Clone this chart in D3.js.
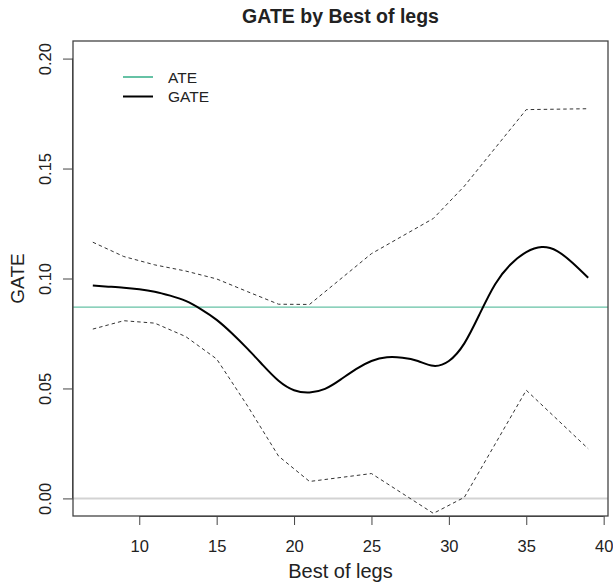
<!DOCTYPE html>
<html>
<head>
<meta charset="utf-8">
<script src="https://cdn.jsdelivr.net/npm/d3@7"></script>
<style>
  body { margin: 0; background: #fff; }
  text { font-family: "Liberation Sans", Arial, sans-serif; fill: #222; }
</style>
</head>
<body>
<div id="chart"></div>
<script>
// data
const ate = 0.087
const gateX = d3.range(7, 40)
const gateY = [0.0968, 0.0963, 0.0958, 0.0951, 0.0940, 0.0922, 0.0898, 0.0860, 0.0812, 0.0750,
  0.0680, 0.0605, 0.0535, 0.0492, 0.0482, 0.0498, 0.0540, 0.0588, 0.0625, 0.0642,
  0.0640, 0.0625, 0.0603, 0.0625, 0.0705, 0.0840, 0.0975, 0.1065, 0.1120, 0.1143,
  0.1125, 0.1070, 0.1003]
const ciX = [7, 9, 11, 13, 15, 17, 19, 21, 25, 29, 31, 35, 39]
const upperY = [0.1165, 0.1100, 0.1062, 0.1034, 0.0998, 0.0940, 0.0883, 0.0882, 0.1113, 0.1273, 0.1420, 0.1768, 0.1772]
const lowerY = [0.0770, 0.0808, 0.0797, 0.0736, 0.0634, 0.0420, 0.0192, 0.0077, 0.0113, -0.0068, 0.0005, 0.0492, 0.0226]
const xTicks = [10, 15, 20, 25, 30, 35, 40]
const yTicks = [0.00, 0.05, 0.10, 0.15, 0.20]
const legendItems = [
  {label: "ATE", color: "#66C2A5"},
  {label: "GATE", color: "#000"}
]

// dimensions
const width = 613, height = 584
const margin = {top: 41, right: 5, bottom: 68, left: 73}
const w = width - margin.left - margin.right
const h = height - margin.top - margin.bottom

const svg = d3.select("#chart").append("svg")
  .attr("width", width)
  .attr("height", height)

const g = svg.append("g")
  .attr("transform", `translate(${margin.left},${margin.top})`)

// R style 4% padding on both axes
const x = d3.scaleLinear().domain([5.72, 40.28]).range([0, w])
const y = d3.scaleLinear().domain([-0.008, 0.208]).range([h, 0])

const gate = gateX.map((d, i) => ({x: d, y: gateY[i]}))
const upper = ciX.map((d, i) => ({x: d, y: upperY[i]}))
const lower = ciX.map((d, i) => ({x: d, y: lowerY[i]}))

// zero line
g.append("line")
  .attr("x1", 0).attr("x2", w)
  .attr("y1", y(0)).attr("y2", y(0))
  .attr("stroke", "#d3d3d3")
  .attr("stroke-width", 2)

// ATE line
g.append("line")
  .attr("x1", 0).attr("x2", w)
  .attr("y1", y(ate)).attr("y2", y(ate))
  .attr("stroke", legendItems[0].color)
  .attr("stroke-width", 1.3)

const lin = d3.line().x(d => x(d.x)).y(d => y(d.y))

g.selectAll(".ci")
  .data([upper, lower])
  .join("path")
  .attr("class", "ci")
  .attr("d", lin)
  .attr("fill", "none")
  .attr("stroke", "#333")
  .attr("stroke-width", 1)
  .attr("stroke-dasharray", "3.5,3")

g.append("path")
  .attr("d", lin.curve(d3.curveNatural)(gate))
  .attr("fill", "none")
  .attr("stroke", "#000")
  .attr("stroke-width", 2)

// box
g.append("rect")
  .attr("width", w).attr("height", h)
  .attr("fill", "none")
  .attr("stroke", "#444")
  .attr("stroke-width", 1.3)

// x axis
g.append("g")
  .attr("transform", `translate(0,${h})`)
  .call(d3.axisBottom(x).tickValues(xTicks).tickSize(9).tickPadding(15).tickSizeOuter(0))
  .call(a => a.select(".domain").attr("d", `M${x(10)},0.5H${x(40)}`).attr("stroke", "#444"))
  .call(a => a.selectAll(".tick line").attr("stroke", "#444"))
  .call(a => a.selectAll(".tick text").attr("font-size", 16.5).attr("font-family", null).attr("fill", "#222"))

// y axis
g.append("g")
  .call(d3.axisLeft(y).tickValues(yTicks).tickFormat(d3.format(".2f")).tickSize(10).tickSizeOuter(0))
  .call(a => a.select(".domain").attr("d", `M-0.5,${y(0)}V${y(0.2)}`).attr("stroke", "#444"))
  .call(a => a.selectAll(".tick line").attr("stroke", "#444"))
  .call(a => a.selectAll(".tick text")
    .attr("font-size", 16.5).attr("font-family", null).attr("fill", "#222")
    .attr("x", null).attr("dy", null)
    .attr("text-anchor", "middle")
    .attr("transform", "translate(-22.5,0) rotate(-90)"))

// titles
svg.append("text")
  .attr("x", margin.left + w / 2).attr("y", 23)
  .attr("text-anchor", "middle")
  .attr("font-size", 19.5).attr("font-weight", "bold")
  .text("GATE by Best of legs")

svg.append("text")
  .attr("x", margin.left + w / 2).attr("y", 578)
  .attr("text-anchor", "middle")
  .attr("font-size", 20)
  .text("Best of legs")

svg.append("text")
  .attr("transform", `translate(24,${margin.top + h / 2}) rotate(-90)`)
  .attr("text-anchor", "middle")
  .attr("font-size", 19)
  .text("GATE")

// legend
const legend = svg.append("g").selectAll("g")
  .data(legendItems)
  .join("g")
  .attr("transform", (d, i) => `translate(123,${77 + i * 19.5})`)

legend.append("line")
  .attr("x1", 0).attr("x2", 30)
  .attr("stroke", d => d.color)
  .attr("stroke-width", 2)

legend.append("text")
  .attr("x", 45).attr("y", 5.5)
  .attr("font-size", 15.5)
  .text(d => d.label)
</script>
</body>
</html>
